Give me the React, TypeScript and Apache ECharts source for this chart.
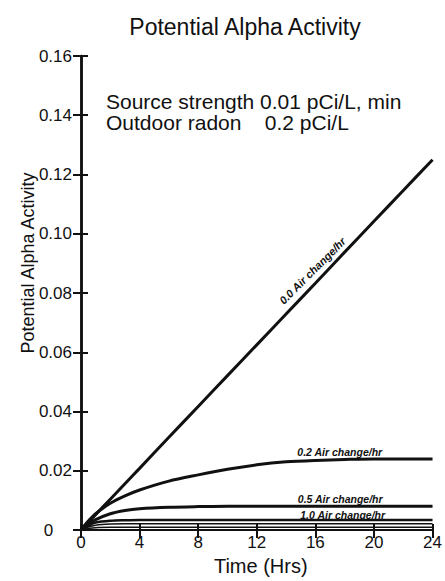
import React, { useEffect, useRef } from "react";
import * as echarts from "echarts";

const hours = [0, 0.5, 1, 2, 3, 4, 6, 8, 10, 12, 14, 16, 18, 20, 22, 24];
const ach00 = [0, 0.0026, 0.0052, 0.0104, 0.0156, 0.0208, 0.0313, 0.0417, 0.0521, 0.0625, 0.0729, 0.0833, 0.0938, 0.1042, 0.1146, 0.125];
const ach02 = [0, 0.003, 0.0055, 0.009, 0.0115, 0.0135, 0.0165, 0.0186, 0.0205, 0.022, 0.023, 0.0235, 0.0238, 0.024, 0.024, 0.024];
const ach05 = [0, 0.002, 0.0035, 0.0055, 0.0066, 0.0072, 0.0077, 0.0079, 0.008, 0.008, 0.008, 0.008, 0.008, 0.008, 0.008, 0.008];
const ach10 = [0, 0.0015, 0.0025, 0.0031, 0.0033, 0.0034, 0.0034, 0.0034, 0.0034, 0.0034, 0.0034, 0.0034, 0.0034, 0.0034, 0.0034, 0.0034];
const lowA = [0, 0.001, 0.0016, 0.002, 0.0021, 0.0021, 0.0021, 0.0021, 0.0021, 0.0021, 0.0021, 0.0021, 0.0021, 0.0021, 0.0021, 0.0021];
const lowB = [0, 0.0005, 0.0008, 0.0009, 0.0009, 0.0009, 0.0009, 0.0009, 0.0009, 0.0009, 0.0009, 0.0009, 0.0009, 0.0009, 0.0009, 0.0009];

const seriesNames = ["0.0 Air change/hr", "0.2 Air change/hr", "0.5 Air change/hr", "1.0 Air change/hr"];
const labelAnchors: [number, number][] = [[15.8, 0.0875], [14.77, 0.0262], [14.8, 0.0105], [14.97, 0.0052]];

const xTicks = [0, 4, 8, 12, 16, 20, 24];
const titleText = "Potential Alpha Activity";
const yName = "Potential Alpha Activity";
const xName = "Time (Hrs)";
const note1 = "Source strength 0.01 pCi/L, min";
const note2 = "Outdoor radon    0.2 pCi/L";

const FONT = "'Liberation Sans', Arial, Helvetica, sans-serif";
const INK = "#111";

export default function App() {
  const ref = useRef<HTMLDivElement>(null);
  useEffect(() => {
    if (!ref.current) return;
    const chart = echarts.init(ref.current, undefined, { renderer: "svg" });
    const pair = (ys: number[]) => hours.map((h, i) => [h, ys[i]]);
    const mkLine = (name: string, ys: number[], width: number, idx: number) => ({
      type: "line",
      name,
      data: pair(ys),
      smooth: 0.3,
      showSymbol: false,
      symbol: "none",
      lineStyle: { color: INK, width },
      z: 3,
      markPoint:
        idx >= 0
          ? {
              symbol: "circle",
              symbolSize: 0,
              silent: true,
              data: [
                {
                  coord: labelAnchors[idx],
                  label: {
                    show: true,
                    formatter: name,
                    position: [0, 0],
                    align: idx === 0 ? "center" : "left",
                    verticalAlign: "middle",
                    rotate: idx === 0 ? 45 : 0,
                    fontSize: idx === 0 ? 11 : 10.5,
                    fontWeight: "bold",
                    fontStyle: "italic",
                    fontFamily: FONT,
                    color: INK,
                  },
                },
              ],
            }
          : undefined,
    });
    chart.setOption({
      animation: false,
      backgroundColor: "#fff",
      grid: { left: 81, right: 8, top: 56, bottom: 44, containLabel: false },
      title: {
        text: titleText,
        left: 240,
        top: 10,
        textAlign: "center",
        textStyle: { fontFamily: FONT, fontSize: 23, fontWeight: "normal", color: INK },
      },
      xAxis: [
        {
          type: "value",
          min: 0,
          max: 24,
          interval: 4,
          position: "bottom",
          axisLine: { show: true, lineStyle: { color: INK, width: 2 } },
          axisTick: { show: true, inside: true, length: 6, lineStyle: { color: INK, width: 2 } },
          axisLabel: {
            show: true,
            margin: 4,
            fontSize: 17,
            fontFamily: FONT,
            color: INK,
            customValues: xTicks,
          },
          splitLine: { show: false },
          name: xName,
          nameLocation: "middle",
          nameGap: 26,
          nameTextStyle: { fontSize: 20, fontFamily: FONT, color: INK, padding: [0, 0, 0, 8] },
        },
        {
          type: "value",
          min: 0,
          max: 24,
          interval: 4,
          position: "top",
          axisLine: { show: true, lineStyle: { color: INK, width: 2 } },
          axisTick: { show: true, inside: true, length: 8, lineStyle: { color: INK, width: 2 } },
          axisLabel: { show: false },
          splitLine: { show: false },
        },
      ],
      yAxis: [
        {
          type: "value",
          min: 0,
          max: 0.16,
          interval: 0.02,
          position: "left",
          axisLine: { show: true, lineStyle: { color: INK, width: 2.5 } },
          axisTick: { show: true, inside: true, length: 7, lineStyle: { color: INK, width: 2 } },
          axisLabel: {
            margin: 9,
            fontSize: 17,
            fontFamily: FONT,
            color: INK,
            formatter: (v: number) => (v === 0 ? "0    " : v.toFixed(2)),
          },
          splitLine: { show: false },
        },
        {
          type: "value",
          min: 0,
          max: 0.16,
          interval: 0.02,
          position: "right",
          axisLine: { show: true, lineStyle: { color: INK, width: 2.5 } },
          axisTick: { show: true, inside: true, length: 8, lineStyle: { color: INK, width: 2 } },
          axisLabel: { show: false },
          splitLine: { show: false },
        },
      ],
      graphic: [
        {
          type: "text",
          left: 106,
          top: 91,
          style: { text: note1, fontSize: 21, fontFamily: FONT, fill: INK },
        },
        {
          type: "text",
          left: 106,
          top: 112,
          style: { text: note2, fontSize: 21, fontFamily: FONT, fill: INK },
        },
        {
          type: "text",
          x: 28,
          y: 263,
          rotation: Math.PI / 2,
          style: {
            text: yName,
            fontSize: 18,
            fontFamily: FONT,
            fill: INK,
            align: "center",
            verticalAlign: "middle",
          },
        },
      ],
      series: [
        mkLine(seriesNames[0], ach00, 3, 0),
        mkLine(seriesNames[1], ach02, 3, 1),
        mkLine(seriesNames[2], ach05, 3, 2),
        mkLine(seriesNames[3], ach10, 2.5, 3),
        mkLine("lower curve A", lowA, 1.5, -1),
        mkLine("lower curve B", lowB, 1.5, -1),
      ],
    });
    return () => chart.dispose();
  }, []);
  return (
    <div
      ref={ref}
      style={{ position: "fixed", left: 0, top: 0, width: 445, height: 581, background: "#fff" }}
    />
  );
}
